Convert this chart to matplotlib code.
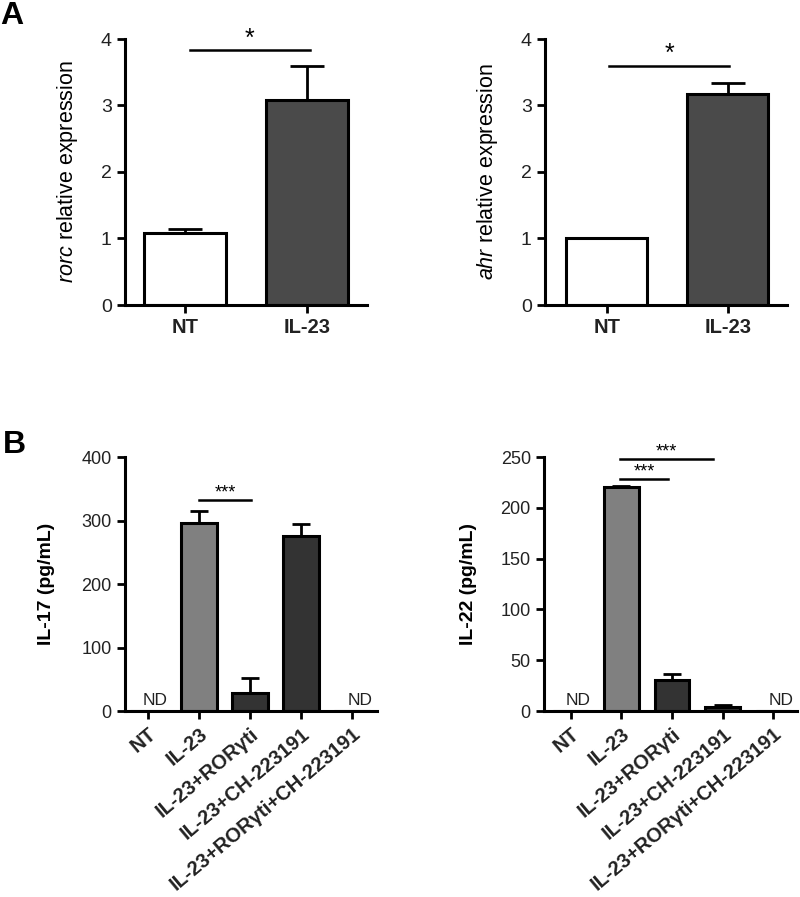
import numpy as np
import matplotlib
matplotlib.use("Agg")
import matplotlib.pyplot as plt

plt.rcParams['font.family'] = ['Liberation Sans', 'DejaVu Sans']
plt.rcParams['mathtext.fontset'] = 'custom'
plt.rcParams['mathtext.it'] = 'Liberation Sans:italic'
plt.rcParams['mathtext.rm'] = 'Liberation Sans'

# panel A
a_groups = ["NT", "IL-23"]
rorc_vals = [1.08, 3.09]
rorc_err = [0.07, 0.50]
ahr_vals = [1.0, 3.17]
ahr_err = [0.0, 0.17]
a_colors = ["white", "#4a4a4a"]

# panel B
b_groups = ["NT", "IL-23", "IL-23+ROR\u03b3ti", "IL-23+CH-223191",
            "IL-23+ROR\u03b3ti+CH-223191"]
il17_vals = [0, 296, 28, 276, 0]
il17_err = [0, 19, 24, 19, 0]
il22_vals = [0, 220.5, 30.5, 4, 0]
il22_err = [0, 0.5, 5.5, 1.5, 0]
nd_flags = [True, False, False, False, True]
b_colors = ["white", "#808080", "#333333", "#333333", "white"]

W, H = 800, 897
fig = plt.figure(figsize=(8, 8.97), dpi=100)


def make_ax(x0, x1, ytop, ybot):
    return fig.add_axes([x0 / W, 1 - ybot / H, (x1 - x0) / W, (ybot - ytop) / H])


def style(ax):
    for s in ["top", "right"]:
        ax.spines[s].set_visible(False)
    for s in ["left", "bottom"]:
        ax.spines[s].set_linewidth(2.2)
    ax.tick_params(width=2, length=6, direction="out", colors="black", labelcolor="#222222")


def bars(ax, vals, err, colors, width, capsize):
    x = np.arange(len(vals))
    ax.bar(x, vals, width=width, color=colors, edgecolor="black", linewidth=2.2, zorder=2)
    ax.errorbar(x, vals, yerr=[np.zeros(len(vals)), err], fmt="none", ecolor="black",
                elinewidth=2, capsize=capsize, capthick=2, zorder=1)
    return x


def sig(ax, x0, x1, y, text, dy, fs):
    ax.plot([x0, x1], [y, y], color="black", lw=1.8, clip_on=False)
    ax.text((x0 + x1) / 2, y + dy, text, ha="center", va="center", fontsize=fs)


# A left
ax1 = make_ax(125, 367, 39, 305)
style(ax1)
x = bars(ax1, rorc_vals, rorc_err, a_colors, 0.67, 12)
ax1.set_xlim(-0.49, 1.49)
ax1.set_ylim(0, 4)
ax1.set_yticks([0, 1, 2, 3, 4])
ax1.set_xticks(x)
ax1.set_xticklabels(a_groups, fontweight="bold", fontsize=14.5)
ax1.tick_params(axis="y", labelsize=14)
ax1.set_ylabel(r"$\it{rorc}$ relative expression", fontsize=15.5)
ax1.yaxis.set_label_coords(-0.186, 0.5)
sig(ax1, 0.04, 1.02, 3.83, "*", 0.17, 18)

# A right
ax2 = make_ax(545, 787, 39, 305)
style(ax2)
x = bars(ax2, ahr_vals, ahr_err, a_colors, 0.67, 12)
ax2.set_xlim(-0.51, 1.49)
ax2.set_ylim(0, 4)
ax2.set_yticks([0, 1, 2, 3, 4])
ax2.set_xticks(x)
ax2.set_xticklabels(a_groups, fontweight="bold", fontsize=14.5)
ax2.tick_params(axis="y", labelsize=14)
ax2.set_ylabel(r"$\it{ahr}$ relative expression", fontsize=15.5)
ax2.yaxis.set_label_coords(-0.186, 0.5)
sig(ax2, 0.02, 1.01, 3.60, "*", 0.17, 18)

# B left
ax3 = make_ax(125, 377, 457, 711)
style(ax3)
x = bars(ax3, il17_vals, il17_err, b_colors, 0.69, 6.5)
ax3.set_xlim(-0.45, 4.49)
ax3.set_ylim(0, 400)
ax3.set_yticks([0, 100, 200, 300, 400])
ax3.set_xticks(x)
ax3.set_xticklabels(b_groups, fontweight="bold", fontsize=14.5, rotation=40,
                    ha="right", rotation_mode="anchor")
ax3.tick_params(axis="y", labelsize=13)
ax3.set_ylabel("IL-17 (pg/mL)", fontweight="bold", fontsize=14)
ax3.yaxis.set_label_coords(-0.278, 0.5)
for i, nd in enumerate(nd_flags):
    if nd:
        ax3.text(i + 0.15, 4, "ND", ha="center", va="bottom", fontsize=12.5, color="#222222")
sig(ax3, 1.0, 2.02, 332, "***", 12, 13)

# B right
ax4 = make_ax(544, 797, 457, 711)
style(ax4)
x = bars(ax4, il22_vals, il22_err, b_colors, 0.69, 6.5)
ax4.set_xlim(-0.53, 4.47)
ax4.set_ylim(0, 250)
ax4.set_yticks([0, 50, 100, 150, 200, 250])
ax4.set_xticks(x)
ax4.set_xticklabels(b_groups, fontweight="bold", fontsize=14.5, rotation=40,
                    ha="right", rotation_mode="anchor")
ax4.tick_params(axis="y", labelsize=13)
ax4.set_ylabel("IL-22 (pg/mL)", fontweight="bold", fontsize=14)
ax4.yaxis.set_label_coords(-0.265, 0.5)
for i, nd in enumerate(nd_flags):
    if nd:
        ax4.text(i + 0.15, 2.5, "ND", ha="center", va="bottom", fontsize=12.5, color="#222222")
sig(ax4, 0.98, 1.93, 228, "***", 7, 13)
sig(ax4, 0.98, 2.81, 248, "***", 7, 13)

fig.text(12 / W, 1 - 16 / H, "A", fontsize=23, fontweight="bold", ha="center", va="center")
fig.text(14 / W, 1 - 445 / H, "B", fontsize=23, fontweight="bold", ha="center", va="center")

fig.savefig("out.png", dpi=100)
